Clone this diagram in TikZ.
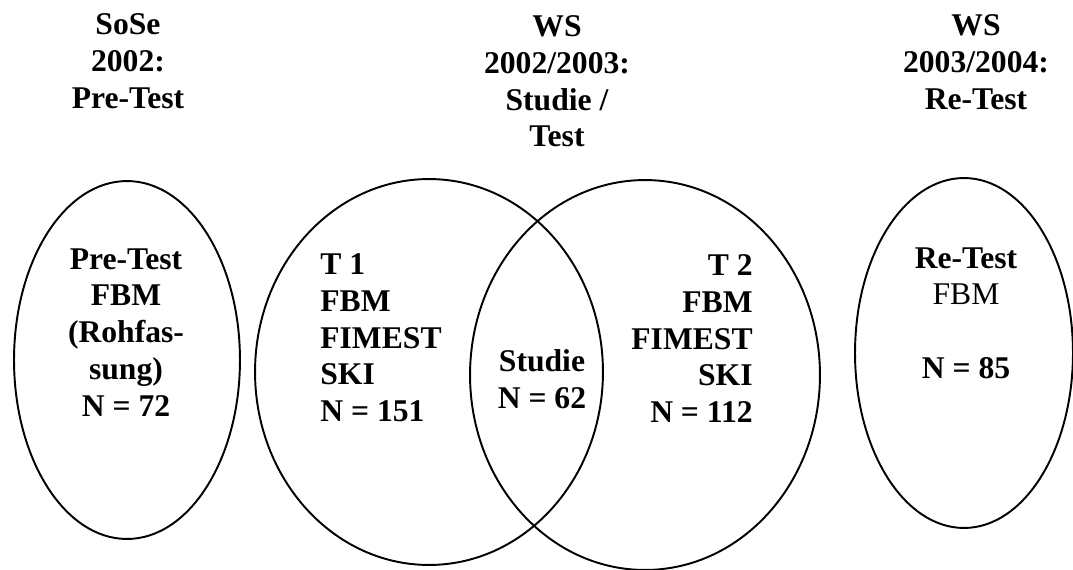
\documentclass[tikz,border=0pt]{standalone}
\usepackage{fontspec}
\setmainfont{Liberation Serif}
\tikzset{
  lbl/.style={font=\fontsize{18}{21}\selectfont\bfseries,inner sep=0pt},
  ring/.style={line width=1.1pt}
}

\begin{document}
\begin{tikzpicture}[line cap=round,line join=round,x=0.02cm,y=-0.02cm]
		\useasboundingbox (0,0) rectangle (1073,569);
		\coordinate (cpre) at (127,360);
		\coordinate (cone) at (429,372);
		\coordinate (ctwo) at (645,375);
		\coordinate (cre) at (964,353);
		\draw [ring] (cpre) ellipse (2.26cm and 3.58cm);
		\draw [ring] (cone) ellipse (3.48cm and 3.86cm);
		\draw [ring] (ctwo) ellipse (3.5cm and 3.9cm);
		\draw [ring] (cre) ellipse (2.18cm and 3.5cm);
		\node [lbl,align=center,anchor=north] (hpre) at (128,13) {SoSe\\2002:\\Pre-Test};
		\node [lbl,align=center,anchor=north] (hstud) at (557,15) {WS\\2002/2003:\\Studie /\\Test};
		\node [lbl,align=center,anchor=north] (hre) at (976,14) {WS\\2003/2004:\\Re-Test};
		\node [lbl,align=center,anchor=north] (tpre) at (126,248) {Pre-Test\\FBM\\(Rohfas-\\sung)\\N = 72};
		\node [lbl,align=left,anchor=north west] (tone) at (320,253) {T 1\\FBM\\FIMEST\\SKI\\N = 151};
		\node [lbl,align=center,anchor=north] (tstud) at (542,349) {Studie\\N = 62};
		\node [lbl,align=right,anchor=north east] (ttwo) at (753,254) {T 2\\FBM\\FIMEST\\SKI\\N = 112};
		\node [lbl,align=center,anchor=north] (tre) at (966,247) {Re-Test\\{\mdseries FBM}\\[21pt]N = 85};
	\end{tikzpicture}
\end{document}
